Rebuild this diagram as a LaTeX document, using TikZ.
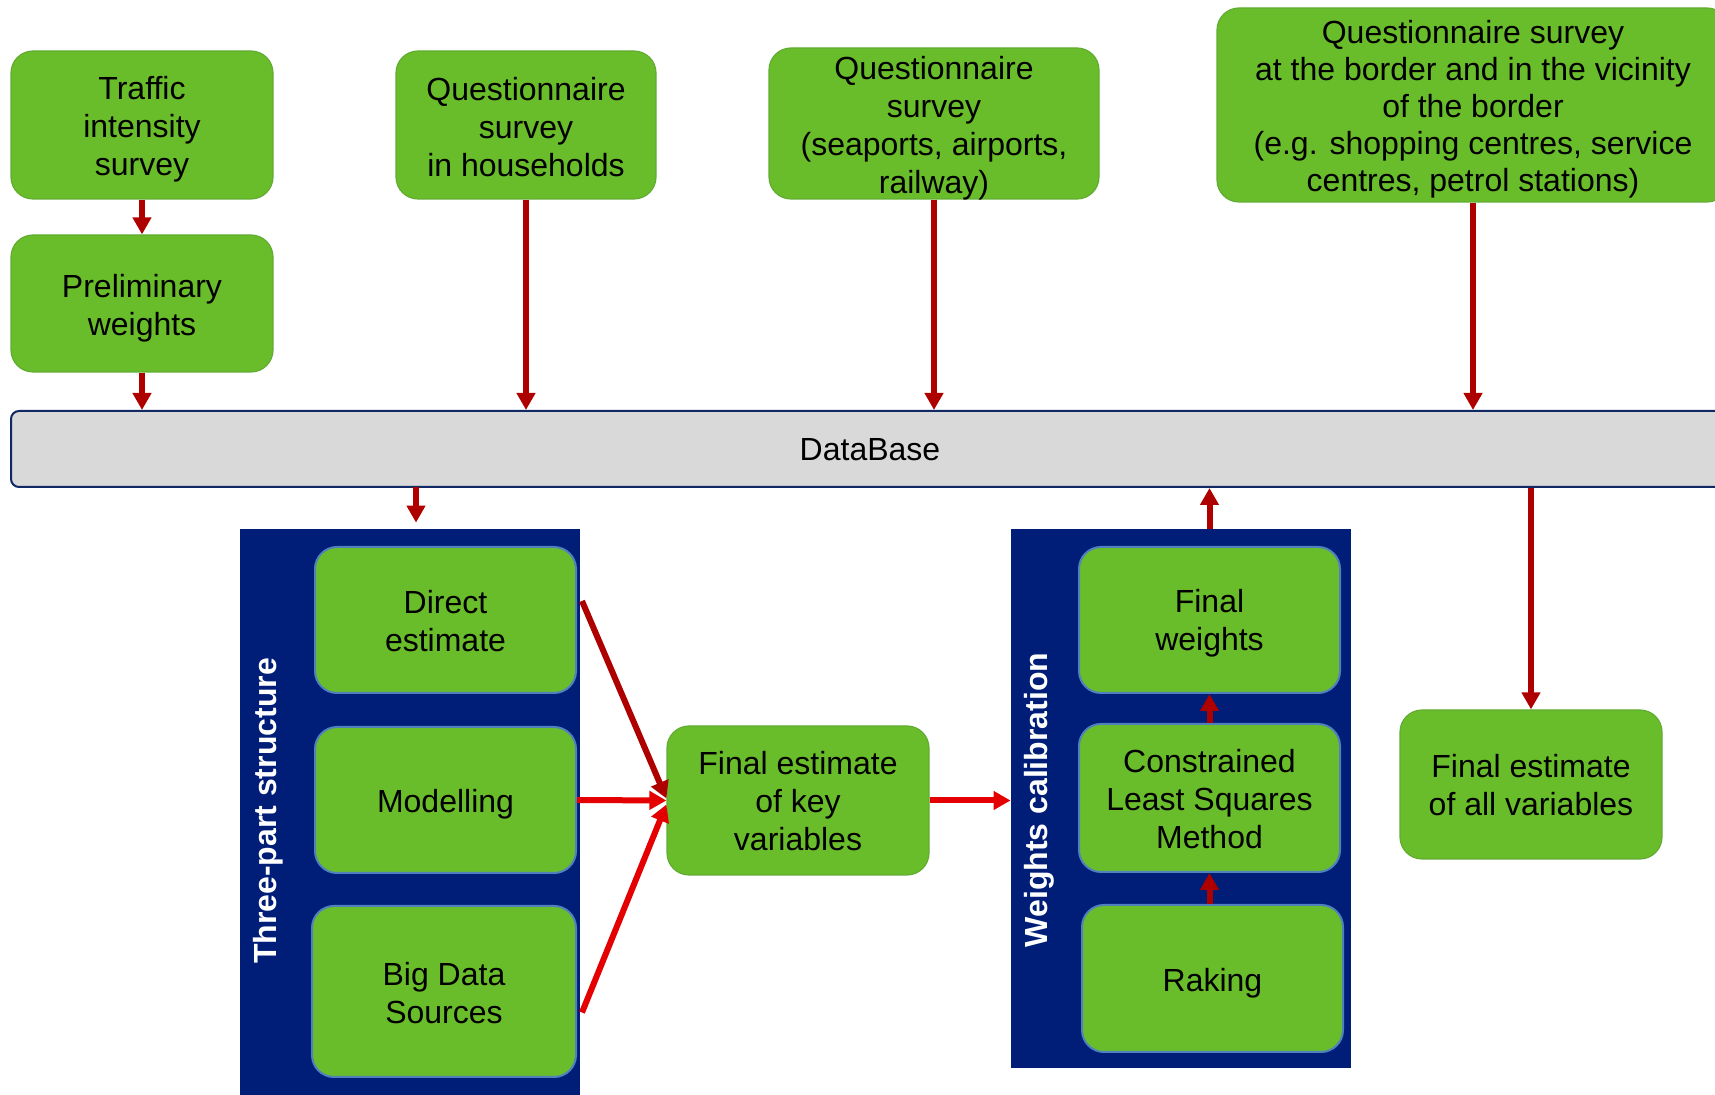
\documentclass[tikz,border=0pt]{standalone}
\usepackage{fontspec}
\setmainfont{Liberation Sans}
\usetikzlibrary{arrows.meta}
\definecolor{leaf}{RGB}{106,189,42}
\definecolor{leafedge}{RGB}{98,172,52}
\definecolor{navy}{RGB}{0,30,120}
\definecolor{steel}{RGB}{79,129,189}
\definecolor{dbgrey}{RGB}{217,217,217}
\definecolor{dbedge}{RGB}{16,40,100}
\definecolor{darkarrow}{RGB}{175,0,0}
\definecolor{brightarrow}{RGB}{228,0,0}

\begin{document}
\begin{tikzpicture}[x=0.5pt,y=-0.5pt,
  txt/.style={font=\fontsize{16}{19}\selectfont, align=center, text=black, inner sep=0pt},
  topbox/.style={draw=leafedge, line width=0.6pt, fill=leaf, rounded corners=11pt, inner sep=0pt},
  inbox/.style={draw=steel, line width=1pt, fill=leaf, rounded corners=11pt, inner sep=0pt},
  panel/.style={fill=navy, draw=none, inner sep=0pt},
  vlabel/.style={font=\fontsize{16}{19}\selectfont\bfseries, text=white, rotate=90},
  darrow/.style={draw=darkarrow, line width=3pt, -{Triangle[width=9pt,length=8.5pt]}},
  rarrow/.style={draw=brightarrow, line width=3pt, -{Triangle[width=9pt,length=8.5pt]}}
]
\useasboundingbox (0,0) rectangle (1715,1095);
\clip (0,0) rectangle (1715,1095);

% sources along the top
\node[topbox, minimum width=131pt, minimum height=74pt] (traffic) at (142,125) {};
\node[txt] (traffic-t) at ([yshift=-2.2pt]traffic.center) {Traffic\\intensity\\survey};
\node[topbox, minimum width=131pt, minimum height=68.5pt] (prelim) at (142,303.5) {};
\node[txt] (prelim-t) at ([yshift=-2.5pt]prelim.center) {Preliminary\\weights};
\node[topbox, minimum width=130pt, minimum height=74pt] (house) at (526,125) {};
\node[txt] (house-t) at ([yshift=-1.1pt]house.center) {Questionnaire\\survey\\in households};
\node[topbox, minimum width=165pt, minimum height=75.5pt] (ports) at (934,123.5) {};
\node[txt] (ports-t) at ([yshift=-2.5pt]ports.center) {Questionnaire\\survey\\(seaports, airports,\\railway)};
\node[topbox, minimum width=256pt, minimum height=97pt] (border) at (1473,105) {};
\node[txt, font=\fontsize{16}{18.5}\selectfont] (border-t) at ([yshift=-2.2pt]border.center)
  {Questionnaire survey\\at the border and in the vicinity\\of the border\\(e.g. shopping centres, service\\centres, petrol stations)};

% database bar
\node[draw=dbedge, line width=1pt, fill=dbgrey, rounded corners=4pt,
      minimum width=859pt, minimum height=38pt, inner sep=0pt] (db) at (870,449) {};
\node[txt] (db-t) at ([yshift=-0.5pt]db.center) {DataBase};

% three-part structure panel
\node[panel, minimum width=170pt, minimum height=290.5pt] (tps) at (410,819.5) {};
\node[vlabel] (tpslabel) at (268,811) {Three-part structure};
\node[inbox, minimum width=130.5pt, minimum height=73pt] (direct) at (445.5,620) {};
\node[txt] (direct-t) at ([yshift=-0.5pt]direct.center) {Direct\\estimate};
\node[inbox, minimum width=130.5pt, minimum height=73pt] (model) at (445.5,800) {};
\node[txt] (model-t) at ([yshift=-2.2pt]model.center) {Modelling};
\node[inbox, minimum width=132pt, minimum height=85.5pt] (bigdata) at (444,991.5) {};
\node[txt] (bigdata-t) at ([yshift=-0.8pt]bigdata.center) {Big Data\\Sources};

% key variables
\node[topbox, minimum width=131pt, minimum height=74.5pt] (fkey) at (798,800.5) {};
\node[txt] (fkey-t) at ([yshift=-0.5pt]fkey.center) {Final estimate\\of key\\variables};

% weights calibration panel
\node[panel, minimum width=170pt, minimum height=269.5pt] (wcal) at (1181,798.5) {};
\node[vlabel] (wcallabel) at (1039,800) {Weights calibration};
\node[inbox, minimum width=130.5pt, minimum height=73pt] (fw) at (1209.5,620) {};
\node[txt] (fw-t) at ([yshift=-1.6pt]fw.center) {Final\\weights};
\node[inbox, minimum width=130.5pt, minimum height=74pt] (cls) at (1209.5,798) {};
\node[txt] (cls-t) at ([yshift=-0.3pt]cls.center) {Constrained\\Least Squares\\Method};
\node[inbox, minimum width=130.5pt, minimum height=73.5pt] (rake) at (1212.5,978.5) {};
\node[txt] (rake-t) at ([yshift=-2.2pt]rake.center) {Raking};

% all variables
\node[topbox, minimum width=131pt, minimum height=74.5pt] (fall) at (1531,784.5) {};
\node[txt] (fall-t) at ([yshift=-0.5pt]fall.center) {Final estimate\\of all variables};

% flows into the database
\draw[darrow] (traffic.south) -- (prelim.north);
\draw[darrow] (prelim.south) -- (db.north -| prelim.south);
\draw[darrow] (house.south) -- (db.north -| house.south);
\draw[darrow] (ports.south) -- (db.north -| ports.south);
\draw[darrow] (border.south) -- (db.north -| border.south);

% flows out of the database
\coordinate (tapA) at (416,487);
\draw[darrow, shorten >=3pt] (tapA) -- (tapA |- tps.north);
\draw[darrow] (db.south -| fall.north) -- (fall.north);

% three-part structure to key variables
\draw[darrow] ([xshift=2.5pt,yshift=9.5pt]direct.east) -- ([yshift=1pt]fkey.west);
\draw[rarrow] (model.east) -- (fkey.west);
\draw[rarrow] ([xshift=2.5pt,yshift=-10.5pt]bigdata.east) -- ([yshift=-2pt]fkey.west);

% key variables to calibration
\draw[rarrow] (fkey.east) -- (fkey.east -| wcal.west);

% calibration chain
\draw[darrow] (rake.north -| cls.south) -- (cls.south);
\draw[darrow] (cls.north) -- (fw.south);
\draw[darrow] (wcal.north -| fw.north) -- (db.south -| fw.north);
\end{tikzpicture}
\end{document}
